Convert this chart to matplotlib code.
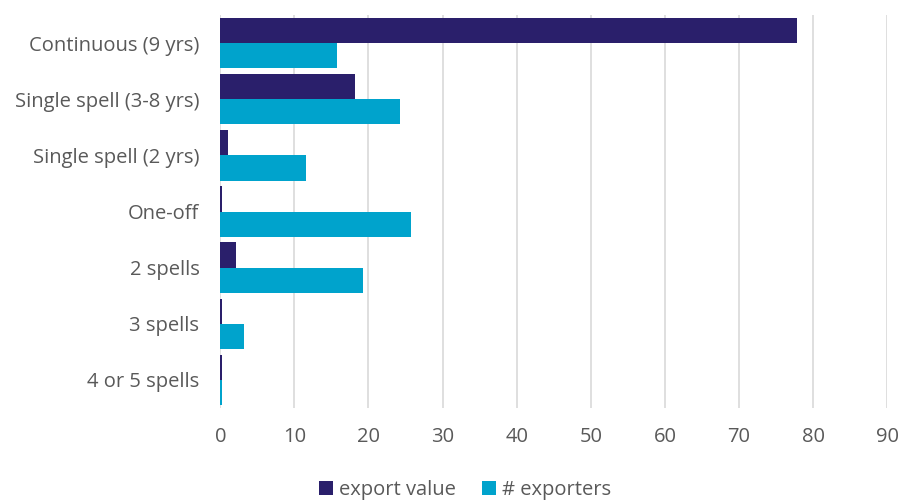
import numpy as np
import matplotlib.pyplot as plt

categories = ["Continuous (9 yrs)", "Single spell (3-8 yrs)", "Single spell (2 yrs)",
              "One-off", "2 spells", "3 spells", "4 or 5 spells"]
export_value = [77.8, 18.2, 1.1, 0.25, 2.1, 0.25, 0.25]
exporters = [15.8, 24.3, 11.6, 25.8, 19.2, 3.2, 0.3]

navy = "#2a1f6b"
cyan = "#00a3cc"
grey = "#595959"

plt.rcParams['font.family'] = ['Open Sans', 'DejaVu Sans']

fig = plt.figure(figsize=(8.99, 5), dpi=100)
ax = fig.add_axes([0.245, 0.184, 0.742, 0.786])

y = np.arange(len(categories))
h = 0.45
ax.barh(y - h / 2, export_value, height=h, color=navy, label="export value", zorder=3)
ax.barh(y + h / 2, exporters, height=h, color=cyan, label="# exporters", zorder=3)

ax.set_ylim(len(categories) - 0.5, -0.5)
ax.set_xlim(0, 90)
ax.set_xticks(range(0, 91, 10))
ax.set_yticks(y)
ax.set_yticklabels(categories)
ax.tick_params(axis='both', length=0, colors=grey, labelsize=14.5)
ax.tick_params(axis='x', pad=14)
ax.tick_params(axis='y', pad=15)
ax.grid(axis='x', color="#d9d9d9", linewidth=1.2, zorder=0)
for s in ax.spines.values():
    s.set_visible(False)

ax.legend(loc='center', bbox_to_anchor=(0.367, -0.209), ncol=2, frameon=False,
          fontsize=14.5, handlelength=0.7, handleheight=0.7, columnspacing=1.3,
          handletextpad=0.3, labelcolor=grey)

fig.savefig("out.png", dpi=100)
